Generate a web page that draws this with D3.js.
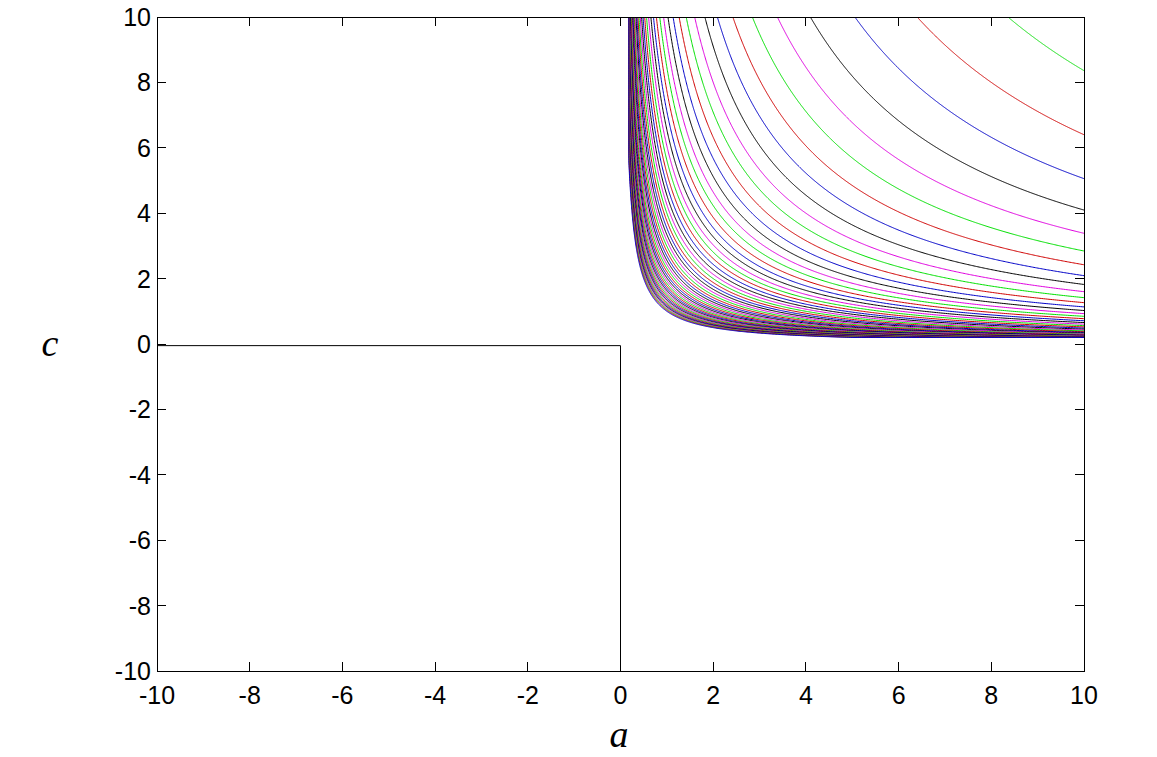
<!DOCTYPE html>
<html><head><meta charset="utf-8">
<script src="https://cdn.jsdelivr.net/npm/d3@7"></script>
<style>body{margin:0;background:#fff}svg{display:block}</style>
</head><body>
<svg id="chart" width="1157" height="757"></svg>
<script>
// Contour levels: value of a*c along each curve (outermost first)
const levels = [83.592, 64, 50.568, 40.96, 33.851, 28.444, 24.237, 20.898, 18.204, 16,
  14.173, 12.642, 11.346, 10.24, 9.288, 8.463, 7.743, 7.111, 6.554, 6.059,
  5.619, 5.224, 4.870, 4.551, 4.262, 4, 3.761, 3.543, 3.344, 3.160,
  2.992, 2.837, 2.693, 2.56, 2.437, 2.322, 2.215, 2.116, 2.023, 1.936,
  1.854, 1.778, 1.706, 1.638, 1.575, 1.515, 1.458, 1.405, 1.354, 1.306,
  1.261, 1.218, 1.177, 1.138, 1.101, 1.066, 1.032, 1];
const levelColors = ["#00e000", "#d00000", "#0000c8", "#000000", "#e000e0"];
// Black boundary of the third quadrant
const boundary = [[-10, -0.05], [0, -0.05], [0, -10]];
const xTicks = [-10, -8, -6, -4, -2, 0, 2, 4, 6, 8, 10];
const yTicks = [-10, -8, -6, -4, -2, 0, 2, 4, 6, 8, 10];
const gridMin = 0.18; // smallest resolvable a or c of the underlying grid

const svg = d3.select("#chart");
const L = 157, R = 1084, T = 17, B = 671;
const x = d3.scaleLinear().domain([-10, 10]).range([L, R]);
const y = d3.scaleLinear().domain([-10, 10]).range([B, T]);

svg.append("defs").append("clipPath").attr("id", "clip")
  .append("rect").attr("x", L).attr("y", T).attr("width", R - L).attr("height", B - T);

const plot = svg.append("g").attr("clip-path", "url(#clip)");
const line = d3.line().x(d => x(d[0])).y(d => y(d[1]));

levels.forEach((k, i) => {
  const a0 = k / 10.5, a1 = 10.2, N = 500;
  const pts = [];
  for (let j = 0; j <= N; j++) {
    const a = a0 * Math.pow(a1 / a0, j / N);
    const c = k / a;
    pts.push([Math.max(a, gridMin), Math.max(c, gridMin + 0.02)]);
  }
  plot.append("path").attr("d", line(pts)).attr("fill", "none")
    .attr("stroke", levelColors[i % 5]).attr("stroke-width", 1);
});

plot.append("path").attr("d", line(boundary)).attr("fill", "none")
  .attr("stroke", "#000").attr("stroke-width", 1);

// Axes box with inward ticks on all sides
const tickLen = 9;
const axG = svg.append("g").attr("stroke", "#000").attr("stroke-width", 1).attr("shape-rendering", "crispEdges");
axG.append("rect").attr("x", L).attr("y", T).attr("width", R - L).attr("height", B - T).attr("fill", "none");
xTicks.forEach(t => {
  axG.append("line").attr("x1", x(t)).attr("x2", x(t)).attr("y1", B).attr("y2", B - tickLen);
  axG.append("line").attr("x1", x(t)).attr("x2", x(t)).attr("y1", T).attr("y2", T + tickLen);
});
yTicks.forEach(t => {
  axG.append("line").attr("x1", L).attr("x2", L + tickLen).attr("y1", y(t)).attr("y2", y(t));
  axG.append("line").attr("x1", R).attr("x2", R - tickLen).attr("y1", y(t)).attr("y2", y(t));
});

const font = "Liberation Sans, Arial, sans-serif";
svg.append("g").selectAll("text").data(xTicks).join("text")
  .attr("x", d => x(d)).attr("y", 704).attr("text-anchor", "middle")
  .attr("font-family", font).attr("font-size", 25).attr("fill", "#000").text(d => d);
svg.append("g").selectAll("text").data(yTicks).join("text")
  .attr("x", 151).attr("y", d => y(d) + 9).attr("text-anchor", "end")
  .attr("font-family", font).attr("font-size", 25).attr("fill", "#000").text(d => d);

svg.append("text").attr("x", 619).attr("y", 747).attr("text-anchor", "middle")
  .attr("font-family", "Liberation Serif, Times New Roman, serif").attr("font-style", "italic")
  .attr("font-size", 38).attr("fill", "#000").text("a");
svg.append("text").attr("x", 50).attr("y", 356).attr("text-anchor", "middle")
  .attr("font-family", "Liberation Serif, Times New Roman, serif").attr("font-style", "italic")
  .attr("font-size", 38).attr("fill", "#000").text("c");
</script>
</body></html>
